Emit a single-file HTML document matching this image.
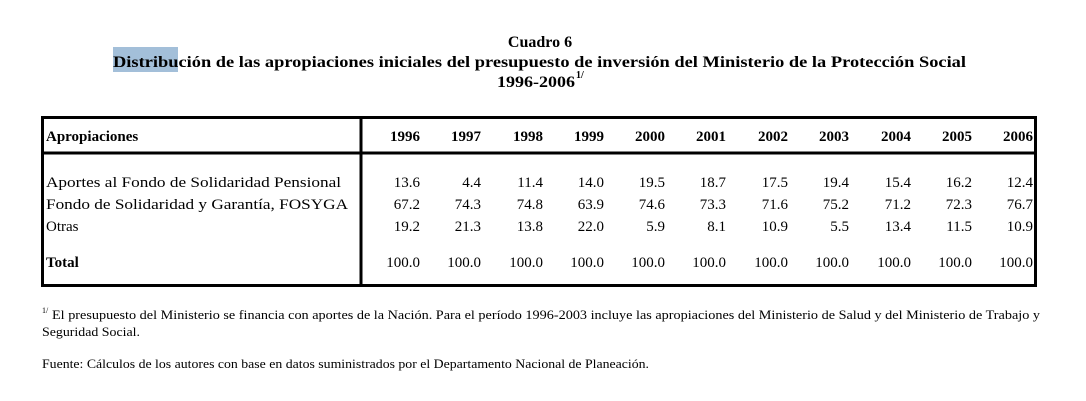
<!DOCTYPE html>
<html><head><meta charset="utf-8"><style>
html,body{margin:0;padding:0;background:#fff;}
svg{display:block;}
text{font-family:"Liberation Serif",serif;fill:#000;}
.b{font-weight:bold;}
.n{font-size:15px;text-anchor:end;}
</style></head><body>
<svg width="1086" height="401" viewBox="0 0 1086 401" xmlns="http://www.w3.org/2000/svg">
<rect x="113" y="47" width="65" height="25" fill="#a3bfd9"/>
<text class="b" x="540" y="47" font-size="16" text-anchor="middle">Cuadro 6</text>
<text class="b" x="113" y="67" font-size="16" textLength="853" lengthAdjust="spacingAndGlyphs">Distribución de las apropiaciones iniciales del presupuesto de inversión del Ministerio de la Protección Social</text>
<text class="b" x="497" y="87" font-size="16" textLength="78" lengthAdjust="spacingAndGlyphs">1996-2006</text>
<text class="b" x="576" y="78" font-size="10">1/</text>

<rect x="42.5" y="117.5" width="993" height="168" fill="none" stroke="#000" stroke-width="3"/>
<line x1="361" y1="116" x2="361" y2="287" stroke="#000" stroke-width="3"/>
<line x1="41" y1="153" x2="1037" y2="153" stroke="#000" stroke-width="3"/>

<text class="b" x="46" y="141" font-size="15">Apropiaciones</text>
<g class="b n">
<text x="420" y="141">1996</text><text x="481" y="141">1997</text><text x="543" y="141">1998</text><text x="604" y="141">1999</text><text x="665" y="141">2000</text><text x="726" y="141">2001</text><text x="788" y="141">2002</text><text x="849" y="141">2003</text><text x="911" y="141">2004</text><text x="972" y="141">2005</text><text x="1033" y="141">2006</text>
</g>
<text x="46" y="187" font-size="15" textLength="295" lengthAdjust="spacingAndGlyphs">Aportes al Fondo de Solidaridad Pensional</text>
<text x="46" y="209" font-size="15" textLength="302" lengthAdjust="spacingAndGlyphs">Fondo de Solidaridad y Garantía, FOSYGA</text>
<text x="46" y="231" font-size="15">Otras</text>
<text class="b" x="46" y="267" font-size="15">Total</text>
<g class="n">
<text x="420" y="187">13.6</text><text x="481" y="187">4.4</text><text x="543" y="187">11.4</text><text x="604" y="187">14.0</text><text x="665" y="187">19.5</text><text x="726" y="187">18.7</text><text x="788" y="187">17.5</text><text x="849" y="187">19.4</text><text x="911" y="187">15.4</text><text x="972" y="187">16.2</text><text x="1033" y="187">12.4</text>
<text x="420" y="209">67.2</text><text x="481" y="209">74.3</text><text x="543" y="209">74.8</text><text x="604" y="209">63.9</text><text x="665" y="209">74.6</text><text x="726" y="209">73.3</text><text x="788" y="209">71.6</text><text x="849" y="209">75.2</text><text x="911" y="209">71.2</text><text x="972" y="209">72.3</text><text x="1033" y="209">76.7</text>
<text x="420" y="231">19.2</text><text x="481" y="231">21.3</text><text x="543" y="231">13.8</text><text x="604" y="231">22.0</text><text x="665" y="231">5.9</text><text x="726" y="231">8.1</text><text x="788" y="231">10.9</text><text x="849" y="231">5.5</text><text x="911" y="231">13.4</text><text x="972" y="231">11.5</text><text x="1033" y="231">10.9</text>
<text x="420" y="267">100.0</text><text x="481" y="267">100.0</text><text x="543" y="267">100.0</text><text x="604" y="267">100.0</text><text x="665" y="267">100.0</text><text x="726" y="267">100.0</text><text x="788" y="267">100.0</text><text x="849" y="267">100.0</text><text x="911" y="267">100.0</text><text x="972" y="267">100.0</text><text x="1033" y="267">100.0</text>
</g>

<text x="42" y="313" font-size="8">1/</text>
<text x="52" y="319" font-size="12.5" textLength="988" lengthAdjust="spacingAndGlyphs">El presupuesto del Ministerio se financia con aportes de la Nación. Para el período 1996-2003 incluye las apropiaciones del Ministerio de Salud y del Ministerio de Trabajo y</text>
<text x="42" y="336" font-size="12.5" textLength="98" lengthAdjust="spacingAndGlyphs">Seguridad Social.</text>
<text x="42" y="368" font-size="12.5" textLength="607" lengthAdjust="spacingAndGlyphs">Fuente: Cálculos de los autores con base en datos suministrados por el Departamento Nacional de Planeación.</text>
</svg>
</body></html>
